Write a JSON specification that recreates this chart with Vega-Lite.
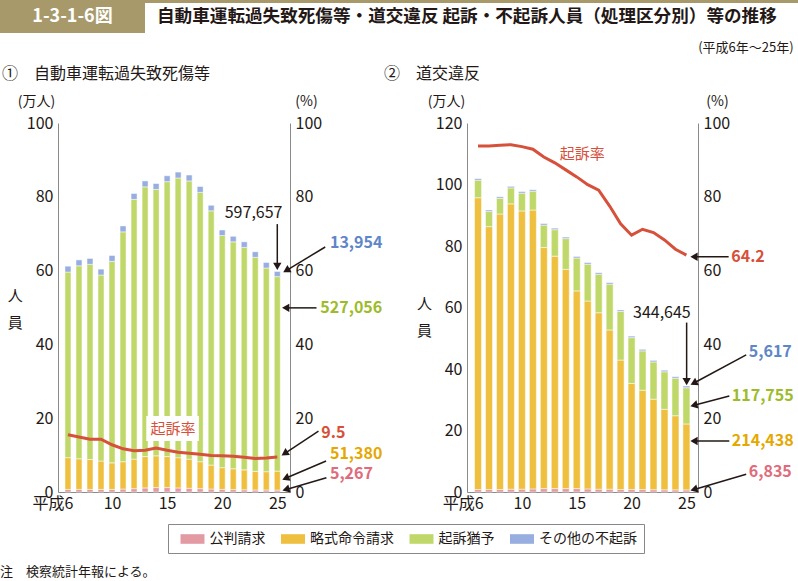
{
  "$schema": "https://vega.github.io/schema/vega-lite/v6.json",
  "background": "white",
  "padding": 0,
  "config": {
    "font": "Noto Sans CJK JP",
    "view": {"stroke": null},
    "axis": {"labelFont": "Noto Sans CJK JP", "titleFont": "Noto Sans CJK JP", "domainColor": "#8a8a8a", "labelColor": "#231815", "labelFontSize": 16, "ticks": false, "grid": false, "labelPadding": 5, "titleFontWeight": "normal", "titleFontSize": 14, "titleColor": "#231815"},
    "title": {"font": "Noto Sans CJK JP", "color": "#231815", "fontWeight": "normal"}
  },
  "datasets": {
    "ord": [
      {"type": "公判請求", "ord": 1},
      {"type": "略式命令請求", "ord": 2},
      {"type": "起訴猶予", "ord": 3},
      {"type": "その他の不起訴", "ord": 4}
    ],
    "a": [
      {"year": 6, "公判請求": 0.7, "略式命令請求": 8.6, "起訴猶予": 50.3, "その他の不起訴": 1.6, "rate": 15.5},
      {"year": 7, "公判請求": 0.7, "略式命令請求": 8.3, "起訴猶予": 52.3, "その他の不起訴": 1.6, "rate": 14.9},
      {"year": 8, "公判請求": 0.7, "略式命令請求": 8.1, "起訴猶予": 52.9, "その他の不起訴": 1.6, "rate": 14.3},
      {"year": 9, "公判請求": 0.7, "略式命令請求": 7.7, "起訴猶予": 50.4, "その他の不起訴": 1.6, "rate": 14.3},
      {"year": 10, "公判請求": 0.7, "略式命令請求": 7.2, "起訴猶予": 54.6, "その他の不起訴": 1.6, "rate": 12.8},
      {"year": 11, "公判請求": 0.8, "略式命令請求": 7.4, "起訴猶予": 62.3, "その他の不起訴": 1.6, "rate": 11.7},
      {"year": 12, "公判請求": 0.9, "略式命令請求": 8.0, "起訴猶予": 70.4, "その他の不起訴": 1.6, "rate": 11.2},
      {"year": 13, "公判請求": 1.1, "略式命令請求": 8.5, "起訴猶予": 73.1, "その他の不起訴": 1.6, "rate": 11.3},
      {"year": 14, "公判請求": 1.2, "略式命令請求": 8.6, "起訴猶予": 72.2, "その他の不起訴": 1.6, "rate": 11.9},
      {"year": 15, "公判請求": 1.2, "略式命令請求": 8.4, "起訴猶予": 74.5, "その他の不起訴": 1.6, "rate": 11.3},
      {"year": 16, "公判請求": 1.1, "略式命令請求": 8.2, "起訴猶予": 75.8, "その他の不起訴": 1.6, "rate": 10.8},
      {"year": 17, "公判請求": 1.0, "略式命令請求": 7.9, "起訴猶予": 75.4, "その他の不起訴": 1.6, "rate": 10.5},
      {"year": 18, "公判請求": 0.9, "略式命令請求": 7.3, "起訴猶予": 73.0, "その他の不起訴": 1.6, "rate": 10.2},
      {"year": 19, "公判請求": 0.8, "略式命令請求": 6.5, "起訴猶予": 68.9, "その他の不起訴": 1.5, "rate": 9.9},
      {"year": 20, "公判請求": 0.7, "略式命令請求": 5.9, "起訴猶予": 62.9, "その他の不起訴": 1.5, "rate": 9.8},
      {"year": 21, "公判請求": 0.65, "略式命令請求": 5.65, "起訴猶予": 61.5, "その他の不起訴": 1.5, "rate": 9.7},
      {"year": 22, "公判請求": 0.6, "略式命令請求": 5.4, "起訴猶予": 60.3, "その他の不起訴": 1.5, "rate": 9.4},
      {"year": 23, "公判請求": 0.55, "略式命令請求": 5.05, "起訴猶予": 58.0, "その他の不起訴": 1.5, "rate": 9.1},
      {"year": 24, "公判請求": 0.55, "略式命令請求": 4.95, "起訴猶予": 55.2, "その他の不起訴": 1.5, "rate": 9.2},
      {"year": 25, "公判請求": 0.5267, "略式命令請求": 5.138, "起訴猶予": 52.7056, "その他の不起訴": 1.3954, "rate": 9.5}
    ],
    "b": [
      {"year": 6, "公判請求": 0.8, "略式命令請求": 94.9, "起訴猶予": 5.7, "その他の不起訴": 0.5, "rate": 93.8},
      {"year": 7, "公判請求": 0.8, "略式命令請求": 85.5, "起訴猶予": 4.9, "その他の不起訴": 0.5, "rate": 93.8},
      {"year": 8, "公判請求": 0.8, "略式命令請求": 89.6, "起訴猶予": 5.1, "その他の不起訴": 0.5, "rate": 94.0},
      {"year": 9, "公判請求": 0.9, "略式命令請求": 92.8, "起訴猶予": 5.2, "その他の不起訴": 0.5, "rate": 94.1},
      {"year": 10, "公判請求": 0.9, "略式命令請求": 90.5, "起訴猶予": 5.8, "その他の不起訴": 0.5, "rate": 93.6},
      {"year": 11, "公判請求": 1.0, "略式命令請求": 90.7, "起訴猶予": 6.1, "その他の不起訴": 0.5, "rate": 92.9},
      {"year": 12, "公判請求": 1.1, "略式命令請求": 78.4, "起訴猶予": 7.3, "その他の不起訴": 0.5, "rate": 90.8},
      {"year": 13, "公判請求": 1.1, "略式命令請求": 75.6, "起訴猶予": 8.6, "その他の不起訴": 0.5, "rate": 89.2},
      {"year": 14, "公判請求": 1.1, "略式命令請求": 71.3, "起訴猶予": 10.0, "その他の不起訴": 0.5, "rate": 87.3},
      {"year": 15, "公判請求": 1.1, "略式命令請求": 64.3, "起訴猶予": 10.7, "その他の不起訴": 0.5, "rate": 85.4},
      {"year": 16, "公判請求": 1.0, "略式命令請求": 61.1, "起訴猶予": 12.0, "その他の不起訴": 0.5, "rate": 83.3},
      {"year": 17, "公判請求": 0.9, "略式命令請求": 57.4, "起訴猶予": 12.5, "その他の不起訴": 0.5, "rate": 81.8},
      {"year": 18, "公判請求": 0.9, "略式命令請求": 51.8, "起訴猶予": 14.9, "その他の不起訴": 0.5, "rate": 77.5},
      {"year": 19, "公判請求": 0.8, "略式命令請求": 42.1, "起訴猶予": 15.8, "その他の不起訴": 0.5, "rate": 72.7},
      {"year": 20, "公判請求": 0.8, "略式命令請求": 34.5, "起訴猶予": 14.9, "その他の不起訴": 0.5, "rate": 69.6},
      {"year": 21, "公判請求": 0.8, "略式命令請求": 32.3, "起訴猶予": 12.8, "その他の不起訴": 0.5, "rate": 71.2},
      {"year": 22, "公判請求": 0.75, "略式命令請求": 29.45, "起訴猶予": 12.1, "その他の不起訴": 0.5, "rate": 70.3},
      {"year": 23, "公判請求": 0.7, "略式命令請求": 26.2, "起訴猶予": 12.2, "その他の不起訴": 0.5, "rate": 68.3},
      {"year": 24, "公判請求": 0.7, "略式命令請求": 24.1, "起訴猶予": 12.2, "その他の不起訴": 0.5, "rate": 65.8},
      {"year": 25, "公判請求": 0.6835, "略式命令請求": 21.4438, "起訴猶予": 11.7755, "その他の不起訴": 0.5617, "rate": 64.2}
    ],
    "aLab": [
      {"year": 20.23, "value": 75.5, "text": "597,657", "kind": "総数"},
      {"year": 29.78, "value": 67.6, "text": "13,954", "kind": "その他の不起訴"},
      {"year": 28.91, "value": 49.9, "text": "527,056", "kind": "起訴猶予"},
      {"year": 28.99, "value": 16.1, "text": "9.5", "kind": "起訴率"},
      {"year": 29.78, "value": 10.2, "text": "51,380", "kind": "略式命令請求"},
      {"year": 29.78, "value": 4.8, "text": "5,267", "kind": "公判請求"},
      {"year": 1.21, "value": 53.1, "text": "人", "kind": "軸"},
      {"year": 1.21, "value": 45.8, "text": "員", "kind": "軸"}
    ],
    "aArr": [
      {"year": 25.0, "value": 72.6, "hx": 25.0, "hy": 61.5, "angle": 180},
      {"year": 29.35, "value": 66.4, "hx": 25.92, "hy": 60.2, "angle": 240},
      {"year": 28.56, "value": 49.9, "hx": 25.87, "hy": 49.9, "angle": 270},
      {"year": 28.74, "value": 16.5, "hx": 25.76, "hy": 10.6, "angle": 237.5},
      {"year": 29.43, "value": 8.4, "hx": 25.86, "hy": 3.85, "angle": 247.7},
      {"year": 29.46, "value": 3.88, "hx": 25.89, "hy": 0.76, "angle": 254.4}
    ],
    "bLab": [
      {"year": 20.13, "value": 58.3, "text": "344,645", "kind": "総数"},
      {"year": 29.09, "value": 76.5, "text": "64.2", "kind": "起訴率"},
      {"year": 30.69, "value": 45.6, "text": "5,617", "kind": "その他の不起訴"},
      {"year": 29.14, "value": 31.2, "text": "117,755", "kind": "起訴猶予"},
      {"year": 29.14, "value": 16.6, "text": "214,438", "kind": "略式命令請求"},
      {"year": 30.69, "value": 6.6, "text": "6,835", "kind": "公判請求"},
      {"year": 1.11, "value": 61.1, "text": "人", "kind": "軸"},
      {"year": 1.11, "value": 52.4, "text": "員", "kind": "軸"}
    ],
    "bArr": [
      {"year": 28.85, "value": 76.5, "hx": 25.80, "hy": 76.5, "angle": 270},
      {"year": 25.02, "value": 55.1, "hx": 25.02, "hy": 36.3, "angle": 180},
      {"year": 30.45, "value": 44.6, "hx": 25.77, "hy": 35.6, "angle": 243},
      {"year": 28.91, "value": 31.2, "hx": 25.79, "hy": 28.3, "angle": 256},
      {"year": 28.91, "value": 16.6, "hx": 25.80, "hy": 16.6, "angle": 270},
      {"year": 30.45, "value": 5.76, "hx": 25.79, "hy": 0.91, "angle": 254.4}
    ]
  },
  "title": {"text": "注　検察統計年報による。", "orient": "bottom", "anchor": "start", "fontSize": 13, "offset": 12},
  "spacing": 9,
  "vconcat": [
    {
      "spacing": 0,
      "hconcat": [
        {
          "width": 145, "height": 33,
          "view": {"fill": "#a8996b", "stroke": null},
          "data": {"values": [{"label": "1-3-1-6図"}]},
          "mark": {"type": "text", "color": "white", "fontSize": 18, "fontWeight": "bold"},
          "encoding": {"text": {"field": "label"}}
        },
        {
          "width": 653, "height": 3,
          "view": {"fill": "#a8996b", "stroke": null},
          "data": {"values": [{"label": ""}]},
          "mark": {"type": "point", "opacity": 0, "size": 0},
          "encoding": {},
          "title": {"text": "自動車運転過失致死傷等・道交違反 起訴・不起訴人員（処理区分別）等の推移", "orient": "bottom", "anchor": "start", "frame": "group", "dx": 12, "fontSize": 17.6, "fontWeight": "bold", "offset": 5}
        }
      ]
    },
    {
      "spacing": 1,
      "title": {"text": "(平成6年～25年)", "anchor": "end", "fontSize": 13, "offset": 11},
      "hconcat": [
        {
          "width": 0.01, "height": 0.01,
          "data": {"values": [{"label": ""}]},
          "mark": {"type": "point", "opacity": 0, "size": 0},
          "encoding": {}
        },
        {
          "width": 232, "height": 369,
          "title": {"text": "①　自動車運転過失致死傷等", "anchor": "start", "frame": "group", "dx": -56, "fontSize": 16, "offset": 12},
          "resolve": {"scale": {"y": "independent"}},
          "layer": [
            {
              "layer": [
                {
                  "data": {"name": "a"},
                  "transform": [
                    {"fold": ["公判請求", "略式命令請求", "起訴猶予", "その他の不起訴"], "as": ["type", "count"]},
                    {"lookup": "type", "from": {"data": {"name": "ord"}, "key": "type", "fields": ["ord"]}}
                  ],
                  "mark": {"type": "bar", "size": 6, "stroke": "white", "strokeWidth": 0.5},
                  "encoding": {
                    "x": {"field": "year", "type": "quantitative", "scale": {"domain": [5.55, 25.7], "nice": false, "zero": false},
                      "axis": {"values": [6, 10, 15, 20, 25], "title": null, "labelPadding": 3, "labelExpr": "datum.value == 6 ? '平成6' : datum.label", "labelAlign": {"condition": {"test": "datum.value == 6", "value": "right"}, "value": "center"}, "labelOffset": {"condition": {"test": "datum.value == 6", "value": 5}, "value": 0}}},
                    "y": {"field": "count", "type": "quantitative", "stack": "zero", "scale": {"domain": [0, 100], "nice": false},
                      "axis": {"values": [0, 20, 40, 60, 80, 100], "title": "(万人)", "titleAngle": 0, "titleAlign": "center", "titleBaseline": "middle", "titleX": -22, "titleY": -22}},
                    "order": {"field": "ord", "type": "quantitative"},
                    "color": {"field": "type", "type": "nominal",
                      "scale": {"domain": ["公判請求", "略式命令請求", "起訴猶予", "その他の不起訴"], "range": ["#e49aa3", "#efc040", "#c0d86a", "#98aee0"]},
                      "legend": {"orient": "none", "legendX": 168, "legendY": 524, "direction": "horizontal", "title": null, "strokeColor": "#888", "fillColor": "white", "padding": 7, "symbolType": "M-1.5,-0.6H1.5V0.6H-1.5Z", "symbolSize": 256, "symbolStrokeWidth": 0, "symbolOffset": 9.5, "labelOffset": 9, "labelFontSize": 14, "labelFont": "Noto Sans CJK JP", "labelColor": "#231815", "columnPadding": 9.5}}
                  }
                },
                {
                  "data": {"values": [{"year": 13.11, "year2": 17.88, "value": 13.8, "value2": 20.6}]},
                  "mark": {"type": "rect", "color": "white"},
                  "encoding": {
                    "x": {"field": "year", "type": "quantitative", "scale": {"domain": [5.55, 25.7], "nice": false, "zero": false}},
                    "x2": {"field": "year2"},
                    "y": {"field": "value", "type": "quantitative"},
                    "y2": {"field": "value2"}
                  }
                },
                {
                  "data": {"values": [{"year": 15.54, "value": 17.1, "text": "起訴率"}]},
                  "mark": {"type": "text", "color": "#d6503a", "fontSize": 15, "baseline": "middle"},
                  "encoding": {
                    "x": {"field": "year", "type": "quantitative", "scale": {"domain": [5.55, 25.7], "nice": false, "zero": false}},
                    "y": {"field": "value", "type": "quantitative"},
                    "text": {"field": "text"}
                  }
                },
                {
                  "data": {"name": "aArr"},
                  "mark": {"type": "rule", "color": "#231815", "strokeWidth": 1.5},
                  "encoding": {
                    "x": {"field": "year", "type": "quantitative", "scale": {"domain": [5.55, 25.7], "nice": false, "zero": false}},
                    "x2": {"field": "hx"},
                    "y": {"field": "value", "type": "quantitative"},
                    "y2": {"field": "hy"}
                  }
                },
                {
                  "data": {"name": "aArr"},
                  "mark": {"type": "point", "shape": "triangle", "filled": true, "color": "#231815", "size": 70, "opacity": 1},
                  "encoding": {
                    "x": {"field": "hx", "type": "quantitative", "scale": {"domain": [5.55, 25.7], "nice": false, "zero": false}},
                    "y": {"field": "hy", "type": "quantitative"},
                    "angle": {"field": "angle", "type": "quantitative", "scale": null}
                  }
                },
                {
                  "data": {"name": "aLab"},
                  "transform": [{"filter": "datum.kind != '総数' && datum.kind != '軸'"}],
                  "mark": {"type": "text", "align": "left", "baseline": "middle", "fontSize": 16, "fontWeight": "bold"},
                  "encoding": {
                    "x": {"field": "year", "type": "quantitative", "scale": {"domain": [5.55, 25.7], "nice": false, "zero": false}},
                    "y": {"field": "value", "type": "quantitative"},
                    "text": {"field": "text"},
                    "fill": {"field": "kind", "type": "nominal", "legend": null, "scale": {"domain": ["総数", "公判請求", "略式命令請求", "起訴猶予", "その他の不起訴", "起訴率", "軸"], "range": ["#231815", "#e06b7a", "#e5a800", "#9dbb2a", "#5f86c6", "#d6503a", "#231815"]}}
                  }
                },
                {
                  "data": {"name": "aLab"},
                  "transform": [{"filter": "datum.kind == '総数'"}],
                  "mark": {"type": "text", "align": "left", "baseline": "middle", "fontSize": 16, "color": "#231815"},
                  "encoding": {
                    "x": {"field": "year", "type": "quantitative", "scale": {"domain": [5.55, 25.7], "nice": false, "zero": false}},
                    "y": {"field": "value", "type": "quantitative"},
                    "text": {"field": "text"}
                  }
                },
                {
                  "data": {"name": "aLab"},
                  "transform": [{"filter": "datum.kind == '軸'"}],
                  "mark": {"type": "text", "align": "center", "baseline": "middle", "fontSize": 15, "color": "#231815"},
                  "encoding": {
                    "x": {"field": "year", "type": "quantitative", "scale": {"domain": [5.55, 25.7], "nice": false, "zero": false}},
                    "y": {"field": "value", "type": "quantitative"},
                    "text": {"field": "text"}
                  }
                }
              ]
            },
            {
              "data": {"name": "a"},
              "mark": {"type": "line", "color": "#d6503a", "strokeWidth": 3},
              "encoding": {
                "x": {"field": "year", "type": "quantitative", "scale": {"domain": [5.55, 25.7], "nice": false, "zero": false}},
                "y": {"field": "rate", "type": "quantitative", "scale": {"domain": [0, 100], "nice": false},
                  "axis": {"orient": "right", "values": [0, 20, 40, 60, 80, 100], "title": "(%)", "titleAngle": 0, "titleAlign": "center", "titleBaseline": "middle", "titleX": 16, "titleY": -22}}
              }
            }
          ]
        },
        {
          "width": 231, "height": 369,
          "title": {"text": "　 ②　道交違反", "anchor": "start", "frame": "group", "dx": -83, "fontSize": 16, "offset": 12},
          "resolve": {"scale": {"y": "independent"}},
          "layer": [
            {
              "layer": [
                {
                  "data": {"name": "b"},
                  "transform": [
                    {"fold": ["公判請求", "略式命令請求", "起訴猶予", "その他の不起訴"], "as": ["type", "count"]},
                    {"lookup": "type", "from": {"data": {"name": "ord"}, "key": "type", "fields": ["ord"]}}
                  ],
                  "mark": {"type": "bar", "size": 7, "stroke": "white", "strokeWidth": 0.5},
                  "encoding": {
                    "x": {"field": "year", "type": "quantitative", "scale": {"domain": [5.45, 25.6], "nice": false, "zero": false},
                      "axis": {"values": [6, 10, 15, 20, 25], "title": null, "labelPadding": 3, "labelExpr": "datum.value == 6 ? '平成6' : datum.label", "labelAlign": {"condition": {"test": "datum.value == 6", "value": "right"}, "value": "center"}, "labelOffset": {"condition": {"test": "datum.value == 6", "value": 5}, "value": 0}}},
                    "y": {"field": "count", "type": "quantitative", "stack": "zero", "scale": {"domain": [0, 120], "nice": false},
                      "axis": {"values": [0, 20, 40, 60, 80, 100, 120], "title": "(万人)", "titleAngle": 0, "titleAlign": "center", "titleBaseline": "middle", "titleX": -21, "titleY": -22}},
                    "order": {"field": "ord", "type": "quantitative"},
                    "color": {"field": "type", "type": "nominal",
                      "scale": {"domain": ["公判請求", "略式命令請求", "起訴猶予", "その他の不起訴"], "range": ["#e49aa3", "#efc040", "#c0d86a", "#98aee0"]},
                      "legend": {"orient": "none", "legendX": 168, "legendY": 524, "direction": "horizontal", "title": null, "strokeColor": "#888", "fillColor": "white", "padding": 7, "symbolType": "M-1.5,-0.6H1.5V0.6H-1.5Z", "symbolSize": 256, "symbolStrokeWidth": 0, "symbolOffset": 9.5, "labelOffset": 9, "labelFontSize": 14, "labelFont": "Noto Sans CJK JP", "labelColor": "#231815", "columnPadding": 9.5}}
                  }
                },
                {
                  "data": {"values": [{"year": 15.51, "value": 109.8, "text": "起訴率"}]},
                  "mark": {"type": "text", "color": "#d6503a", "fontSize": 15, "baseline": "middle"},
                  "encoding": {
                    "x": {"field": "year", "type": "quantitative", "scale": {"domain": [5.45, 25.6], "nice": false, "zero": false}},
                    "y": {"field": "value", "type": "quantitative"},
                    "text": {"field": "text"}
                  }
                },
                {
                  "data": {"name": "bArr"},
                  "mark": {"type": "rule", "color": "#231815", "strokeWidth": 1.5},
                  "encoding": {
                    "x": {"field": "year", "type": "quantitative", "scale": {"domain": [5.45, 25.6], "nice": false, "zero": false}},
                    "x2": {"field": "hx"},
                    "y": {"field": "value", "type": "quantitative"},
                    "y2": {"field": "hy"}
                  }
                },
                {
                  "data": {"name": "bArr"},
                  "mark": {"type": "point", "shape": "triangle", "filled": true, "color": "#231815", "size": 70, "opacity": 1},
                  "encoding": {
                    "x": {"field": "hx", "type": "quantitative", "scale": {"domain": [5.45, 25.6], "nice": false, "zero": false}},
                    "y": {"field": "hy", "type": "quantitative"},
                    "angle": {"field": "angle", "type": "quantitative", "scale": null}
                  }
                },
                {
                  "data": {"name": "bLab"},
                  "transform": [{"filter": "datum.kind != '総数' && datum.kind != '軸'"}],
                  "mark": {"type": "text", "align": "left", "baseline": "middle", "fontSize": 16, "fontWeight": "bold"},
                  "encoding": {
                    "x": {"field": "year", "type": "quantitative", "scale": {"domain": [5.45, 25.6], "nice": false, "zero": false}},
                    "y": {"field": "value", "type": "quantitative"},
                    "text": {"field": "text"},
                    "fill": {"field": "kind", "type": "nominal", "legend": null, "scale": {"domain": ["総数", "公判請求", "略式命令請求", "起訴猶予", "その他の不起訴", "起訴率", "軸"], "range": ["#231815", "#e06b7a", "#e5a800", "#9dbb2a", "#5f86c6", "#d6503a", "#231815"]}}
                  }
                },
                {
                  "data": {"name": "bLab"},
                  "transform": [{"filter": "datum.kind == '総数'"}],
                  "mark": {"type": "text", "align": "left", "baseline": "middle", "fontSize": 16, "color": "#231815"},
                  "encoding": {
                    "x": {"field": "year", "type": "quantitative", "scale": {"domain": [5.45, 25.6], "nice": false, "zero": false}},
                    "y": {"field": "value", "type": "quantitative"},
                    "text": {"field": "text"}
                  }
                },
                {
                  "data": {"name": "bLab"},
                  "transform": [{"filter": "datum.kind == '軸'"}],
                  "mark": {"type": "text", "align": "center", "baseline": "middle", "fontSize": 15, "color": "#231815"},
                  "encoding": {
                    "x": {"field": "year", "type": "quantitative", "scale": {"domain": [5.45, 25.6], "nice": false, "zero": false}},
                    "y": {"field": "value", "type": "quantitative"},
                    "text": {"field": "text"}
                  }
                }
              ]
            },
            {
              "data": {"name": "b"},
              "mark": {"type": "line", "color": "#d6503a", "strokeWidth": 3},
              "encoding": {
                "x": {"field": "year", "type": "quantitative", "scale": {"domain": [5.45, 25.6], "nice": false, "zero": false}},
                "y": {"field": "rate", "type": "quantitative", "scale": {"domain": [0, 100], "nice": false},
                  "axis": {"orient": "right", "values": [0, 20, 40, 60, 80, 100], "title": "(%)", "titleAngle": 0, "titleAlign": "center", "titleBaseline": "middle", "titleX": 19, "titleY": -22}}
              }
            }
          ]
        }
      ]
    }
  ]
}
